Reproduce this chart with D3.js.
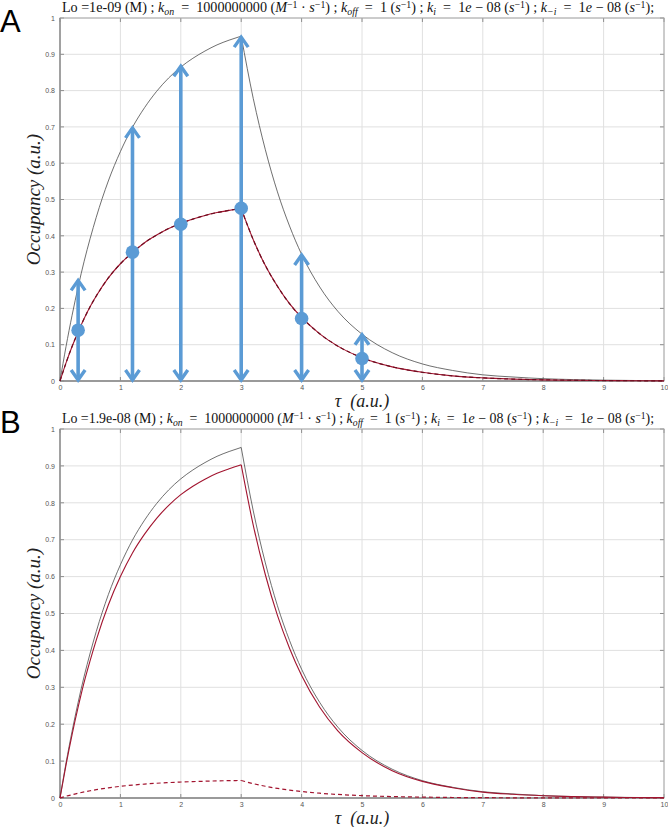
<!DOCTYPE html>
<html><head><meta charset="utf-8">
<script src="https://cdn.jsdelivr.net/npm/d3@7"></script>
<style>body{margin:0;background:#fff}svg{display:block}</style>
</head><body>
<svg id="c" width="668" height="827"></svg>
<script>
// ---------- data ----------
const times = [0,0.1,0.2,0.3,0.4,0.5,0.6,0.8,1.0,1.2,1.4,1.6,1.8,2.0,2.2,2.4,2.6,2.8,3.0,3.2,3.4,3.6,3.8,4.0,4.3,4.6,5.0,5.5,6.0,6.5,7.0,7.5,8.0,8.5,9.0,9.5,10.0];
const aTotal = [0,0.095,0.181,0.259,0.330,0.393,0.451,0.551,0.632,0.699,0.753,0.798,0.835,0.865,0.889,0.909,0.926,0.939,0.950,0.778,0.637,0.521,0.427,0.349,0.259,0.192,0.129,0.078,0.047,0.029,0.017,0.011,0.0064,0.0039,0.0024,0.0014,0.0009];
const aRed = [0,0.050,0.095,0.135,0.172,0.205,0.234,0.284,0.323,0.354,0.381,0.402,0.420,0.434,0.446,0.456,0.464,0.470,0.475,0.389,0.318,0.261,0.213,0.175,0.130,0.096,0.064,0.039,0.024,0.014,0.0086,0.0053,0.0032,0.0019,0.0012,0.0007,0.0004];
const aRedDash = aRed;
const bTotal = [0,0.095,0.181,0.259,0.330,0.393,0.451,0.551,0.632,0.699,0.753,0.798,0.835,0.865,0.889,0.909,0.926,0.939,0.950,0.778,0.637,0.521,0.427,0.349,0.259,0.192,0.129,0.078,0.047,0.029,0.017,0.011,0.0064,0.0039,0.0024,0.0014,0.0009];
const bRed = [0,0.090,0.172,0.246,0.314,0.373,0.428,0.523,0.600,0.664,0.715,0.758,0.793,0.822,0.845,0.864,0.880,0.892,0.903,0.739,0.605,0.495,0.406,0.332,0.246,0.182,0.123,0.074,0.045,0.028,0.016,0.010,0.0061,0.0037,0.0023,0.0013,0.0009];
const bRedDash = [0,0.0048,0.009,0.013,0.0165,0.0197,0.0226,0.0276,0.0316,0.035,0.0377,0.040,0.0418,0.0433,0.0445,0.0455,0.0463,0.047,0.0475,0.0389,0.0318,0.026,0.0213,0.0175,0.013,0.0096,0.0064,0.0039,0.0024,0.0014,0.0009,0.0005,0.0003,0.0002,0.0001,0.0001,0];
const arrowT = [0.3,1.2,2,3,4,5];
const arrowTop = [0.28,0.70,0.87,0.95,0.35,0.13];
const dotVal = [0.14,0.355,0.432,0.476,0.172,0.062];
const pulseEnd = 3;
const xTicks = [0,1,2,3,4,5,6,7,8,9,10];
const yTicks = [0,0.1,0.2,0.3,0.4,0.5,0.6,0.7,0.8,0.9,1];
const yTickLabels = ["0","0.1","0.2","0.3","0.4","0.5","0.6","0.7","0.8","0.9","1"];
const titleA = [["Lo =1e-09 (M) ; ","r"],["k","i"],["on","s"],["  =  1000000000 (","r"],["M","i"],["−1","p"],[" · ","r"],["s","i"],["−1","p"],[") ; ","r"],["k","i"],["off","s"],["  =  1 (","r"],["s","i"],["−1","p"],[") ; ","r"],["k","i"],["i","s"],["  =  1","r"],["e","i"],[" − 08 (","r"],["s","i"],["−1","p"],[") ; ","r"],["k","i"],["−i","s"],["  =  1","r"],["e","i"],[" − 08 (","r"],["s","i"],["−1","p"],[");","r"]];
const titleB = [["Lo =1.9e-08 (M) ; ","r"],["k","i"],["on","s"],["  =  1000000000 (","r"],["M","i"],["−1","p"],[" · ","r"],["s","i"],["−1","p"],[") ; ","r"],["k","i"],["off","s"],["  =  1 (","r"],["s","i"],["−1","p"],[") ; ","r"],["k","i"],["i","s"],["  =  1","r"],["e","i"],[" − 08 (","r"],["s","i"],["−1","p"],[") ; ","r"],["k","i"],["−i","s"],["  =  1","r"],["e","i"],[" − 08 (","r"],["s","i"],["−1","p"],[");","r"]];

// ---------- drawing ----------
const svg = d3.select("#c");
const RED = "#a2142f", BLUE = "#5b9bd5";
const panels = [
  {letter:"A", letterY:32, top:18, bottom:381, title:titleA, total:aTotal, red:aRed, dash:aRedDash, arrows:true, dashColor:"#6e0c1f"},
  {letter:"B", letterY:433, top:429, bottom:798, title:titleB, total:bTotal, red:bRed, dash:bRedDash, arrows:false, dashColor:RED}
];
const L = 60, R = 664;

panels.forEach(p => {
  const x = d3.scaleLinear().domain([0,10]).range([L,R]);
  const y = d3.scaleLinear().domain([0,1]).range([p.bottom,p.top]);
  const g = svg.append("g");
  // grid
  g.selectAll(".gx").data(xTicks).join("line")
    .attr("x1",d=>x(d)).attr("x2",d=>x(d)).attr("y1",p.top).attr("y2",p.bottom)
    .attr("stroke","#e0e0e0").attr("stroke-width",1);
  g.selectAll(".gy").data(yTicks).join("line")
    .attr("y1",d=>y(d)).attr("y2",d=>y(d)).attr("x1",L).attr("x2",R)
    .attr("stroke","#e0e0e0").attr("stroke-width",1);
  // axes via d3
  const ax = d3.axisBottom(x).tickValues(xTicks).tickSize(0).tickPadding(4).tickFormat(d3.format("d"));
  const ay = d3.axisLeft(y).tickValues(yTicks).tickSize(0).tickPadding(5).tickFormat((d,i)=>yTickLabels[i]);
  const gax = g.append("g").attr("transform",`translate(0,${p.bottom})`).call(ax);
  const gay = g.append("g").attr("transform",`translate(${L},0)`).call(ay);
  [gax,gay].forEach(a=>{
    a.select(".domain").remove();
    a.selectAll("text").attr("font-family","Liberation Sans, Arial, sans-serif").attr("font-size",7).attr("fill","#555");
  });
  // inner ticks
  g.selectAll(".tb").data(xTicks).join("line").attr("x1",d=>x(d)).attr("x2",d=>x(d)).attr("y1",p.bottom).attr("y2",p.bottom-4).attr("stroke","#777").attr("stroke-width",0.8);
  g.selectAll(".tt").data(xTicks).join("line").attr("x1",d=>x(d)).attr("x2",d=>x(d)).attr("y1",p.top).attr("y2",p.top+4).attr("stroke","#777").attr("stroke-width",0.8);
  g.selectAll(".tl").data(yTicks).join("line").attr("y1",d=>y(d)).attr("y2",d=>y(d)).attr("x1",L).attr("x2",L+4).attr("stroke","#777").attr("stroke-width",0.8);
  g.selectAll(".tr").data(yTicks).join("line").attr("y1",d=>y(d)).attr("y2",d=>y(d)).attr("x1",R).attr("x2",R-4).attr("stroke","#777").attr("stroke-width",0.8);
  // box
  g.append("rect").attr("x",L).attr("y",p.top).attr("width",R-L).attr("height",p.bottom-p.top)
    .attr("fill","none").attr("stroke","#a8a8a8").attr("stroke-width",1);
  g.append("line").attr("x1",L).attr("x2",L).attr("y1",p.top).attr("y2",p.bottom).attr("stroke","#8a8a8a").attr("stroke-width",1.3);
  g.append("line").attr("x1",L).attr("x2",R).attr("y1",p.bottom).attr("y2",p.bottom).attr("stroke","#8a8a8a").attr("stroke-width",1.3);

  // curves, split at the end of the pulse
  const pts = arr => times.map((t,i)=>[t,arr[i]]);
  const line = d3.line().x(d=>x(d[0])).y(d=>y(d[1])).curve(d3.curveMonotoneX);
  const drawCurve = (arr, attrs) => {
    const P = pts(arr);
    [P.filter(d=>d[0]<=pulseEnd), P.filter(d=>d[0]>=pulseEnd)].forEach(seg=>{
      const path = g.append("path").attr("d",line(seg)).attr("fill","none");
      Object.entries(attrs).forEach(([k,v])=>path.attr(k,v));
    });
  };
  drawCurve(p.total, {stroke:"#4a4a4a","stroke-width":0.8});
  drawCurve(p.red, {stroke:RED,"stroke-width":1.1});
  drawCurve(p.dash, {stroke:p.dashColor,"stroke-width":1.2,"stroke-dasharray":"4,3"});

  if (p.arrows) {
    arrowT.forEach((t,i)=>{
      const cx = x(t), y0 = y(0), y1 = y(arrowTop[i]);
      g.append("line").attr("x1",cx).attr("x2",cx).attr("y1",y0-1).attr("y2",y1+1)
        .attr("stroke",BLUE).attr("stroke-width",3.6);
      g.append("path").attr("d",`M${cx-7},${y1+11}L${cx},${y1+1}L${cx+7},${y1+11}`)
        .attr("fill","none").attr("stroke",BLUE).attr("stroke-width",3.4).attr("stroke-linejoin","miter");
      g.append("path").attr("d",`M${cx-7},${y0-11}L${cx},${y0-1}L${cx+7},${y0-11}`)
        .attr("fill","none").attr("stroke",BLUE).attr("stroke-width",3.4).attr("stroke-linejoin","miter");
    });
    g.selectAll(".dot").data(arrowT).join("circle")
      .attr("cx",d=>x(d)).attr("cy",(d,i)=>y(dotVal[i])).attr("r",6.8).attr("fill",BLUE);
  }

  // title
  const tt = svg.append("text").attr("x",0).attr("y",p.top-6).style("white-space","pre")
    .attr("font-family","Liberation Serif, Times New Roman, serif").attr("font-size",11.5).attr("fill","#111");
  let off = 0;
  p.title.forEach(([s,k])=>{
    const ts = tt.append("tspan").text(s).style("white-space","pre");
    let target = 0;
    if (k==="i") ts.attr("font-style","italic");
    if (k==="s") { ts.attr("font-style","italic").attr("font-size","8"); target = 2.5; }
    if (k==="p") { ts.attr("font-size","8"); target = -4; }
    ts.attr("dy", target-off); off = target;
  });
  const targetW = 593;
  const w = tt.node().getBBox().width;
  const sc = Math.min(1.3, targetW / w);
  tt.attr("font-size", 11.5*sc);
  tt.selectAll("tspan").each(function(){ const fs=this.getAttribute("font-size"); if(fs) this.setAttribute("font-size", (+fs)*sc); });
  const w2 = tt.node().getBBox().width;
  tt.attr("x", 358 - w2/2);

  // axis labels
  const mid = (p.top+p.bottom)/2;
  svg.append("text").attr("transform",`translate(40,${mid}) rotate(-90)`).attr("text-anchor","middle")
    .attr("font-family","Liberation Serif, Times New Roman, serif").attr("font-style","italic").attr("font-size",19).attr("fill","#222")
    .style("white-space","pre").text("Occupancy (a.u.)");
  svg.append("text").attr("x",(L+R)/2).attr("y",p.bottom+26).attr("text-anchor","middle")
    .attr("font-family","Liberation Serif, Times New Roman, serif").attr("font-style","italic").attr("font-size",18).attr("fill","#222")
    .style("white-space","pre").text("τ  (a.u.)");
  // panel letter
  svg.append("text").attr("x",0).attr("y",p.letterY).attr("font-family","Liberation Sans, Arial, sans-serif")
    .attr("font-size",31).attr("fill","#000").text(p.letter);
});
</script>
</body></html>
